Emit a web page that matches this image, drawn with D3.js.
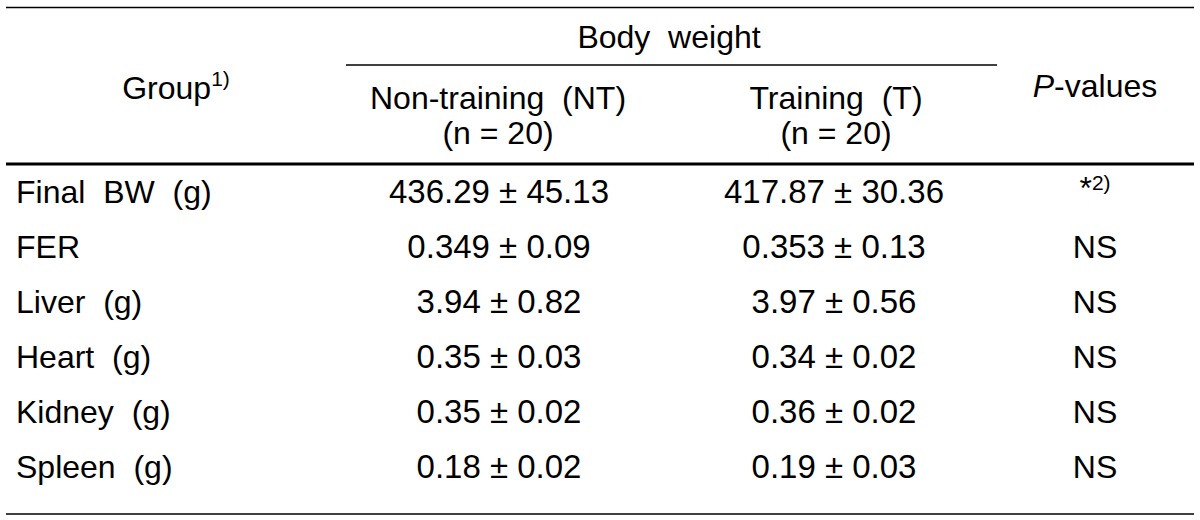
<!DOCTYPE html>
<html><head><meta charset="utf-8">
<script src="https://cdn.jsdelivr.net/npm/d3@7"></script>
<style>
html,body{margin:0;padding:0;background:#fff;}
svg text{font-family:"Liberation Sans",Arial,sans-serif;fill:#000;white-space:pre;}
</style></head>
<body><svg id="c" width="1200" height="520"></svg>
<script>
const rowLabels = ["Final  BW  (g)", "FER", "Liver  (g)", "Heart  (g)", "Kidney  (g)", "Spleen  (g)"];
const ntValues = ["436.29 \u00b1 45.13", "0.349 \u00b1 0.09", "3.94 \u00b1 0.82", "0.35 \u00b1 0.03", "0.35 \u00b1 0.02", "0.18 \u00b1 0.02"];
const tValues  = ["417.87 \u00b1 30.36", "0.353 \u00b1 0.13", "3.97 \u00b1 0.56", "0.34 \u00b1 0.02", "0.36 \u00b1 0.02", "0.19 \u00b1 0.03"];
const pValues  = ["*", "NS", "NS", "NS", "NS", "NS"];
const columns = ["group", "nt", "t", "p"];

const svg = d3.select("#c");
const fs = 32;
const fv = 33;

const x = d3.scaleOrdinal().domain(columns).range([176, 499, 834, 1095]);
const y = d3.scalePoint().domain(rowLabels).range([203, 478]);

// rules
const rule = (x1, x2, yy, w) => svg.append("line").attr("x1", x1).attr("x2", x2)
  .attr("y1", yy).attr("y2", yy).attr("stroke", "#000").attr("stroke-width", w);
rule(6, 1194, 7.5, 1.6);
rule(346, 997, 65, 1.6);
rule(6, 1194, 164, 3.2);
rule(6, 1194, 514, 1.6);

// header
const t = (xx, yy, s, anchor, size) => svg.append("text").attr("x", xx).attr("y", yy)
  .attr("font-size", size || fs).attr("text-anchor", anchor || "middle").text(s);
t(669, 48, "Body  weight");
const g = svg.append("text").attr("x", x("group")).attr("y", 99).attr("font-size", fs).attr("text-anchor", "middle");
g.append("tspan").text("Group");
g.append("tspan").attr("font-size", 21).attr("dy", -13).text("1)");
t(x("nt") - 1, 109, "Non-training  (NT)");
t(x("nt") - 1, 144, "(n = 20)");
t(x("t") + 2, 109, "Training  (T)");
t(x("t") + 2, 144, "(n = 20)");
const p = svg.append("text").attr("x", x("p")).attr("y", 97).attr("font-size", fs).attr("text-anchor", "middle");
p.append("tspan").attr("font-style", "italic").text("P");
p.append("tspan").text("-values");

// body rows
rowLabels.forEach((r, i) => {
  const yy = y(r);
  t(16, yy, r, "start");
  t(x("nt"), yy, ntValues[i], "middle", fv);
  t(x("t"), yy, tValues[i], "middle", fv);
  if (pValues[i] === "*") {
    const s = svg.append("text").attr("x", x("p")).attr("y", yy).attr("font-size", fs).attr("text-anchor", "middle");
    s.append("tspan").attr("dy", -4).text("*");
    s.append("tspan").attr("font-size", 21).attr("dy", -9).text("2)");
  } else {
    t(x("p"), yy, pValues[i]);
  }
});
</script></body></html>
